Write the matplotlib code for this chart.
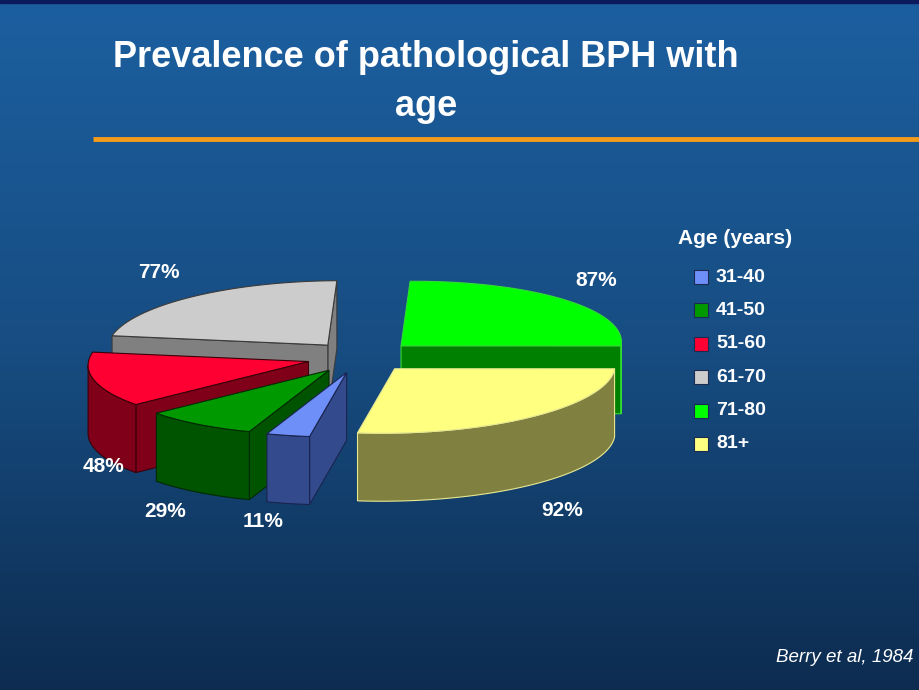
import numpy as np
import matplotlib
matplotlib.use("Agg")
import matplotlib.pyplot as plt
from matplotlib.patches import Polygon, Rectangle
from matplotlib.colors import LinearSegmentedColormap

# ---------------- data ----------------
age_groups = ["31-40", "41-50", "51-60", "61-70", "71-80", "81+"]
prevalence = [11, 29, 48, 77, 87, 92]          # % with pathological BPH
value_labels = [f"{v}%" for v in prevalence]

top_colors = ["#6f8ff8", "#009a00", "#ff0033", "#cccccc", "#00ff00", "#ffff80"]
side_colors = ["#334a8c", "#005400", "#80001a", "#808080", "#008000", "#808040"]
edge_colors = ["#1a2450", "#002a00", "#3a0008", "#3a3a3a", "#33dd33", "#e8e890"]

title_lines = ["Prevalence of pathological BPH with", "age"]
legend_title = "Age (years)"
source = "Berry et al, 1984"

# ---------------- layout / style ----------------
W, H_PX = 920, 690
CX, CY = 361, 357          # pie centre (top plane), pixels
R = 220                     # radius (pixels)
Q = 0.293                   # vertical squash of the tilted disc
THICK = 68                  # slice thickness (pixels)
SHEAR = 13                  # oblique shift of the far side (pixels per radius)
EXPLODE = 0.245             # radial explosion (fraction of radius)
START = 263.7               # first slice angle, drawn clockwise
LABEL_OFFSETS = [(-25, 18), (-33, 19), (9, 18), (-33, -24), (32, -19), (30, 26)]

plt.rcParams["font.family"] = ["Liberation Sans", "DejaVu Sans"]

fig = plt.figure(figsize=(9.2, 6.9), dpi=100)
ax = fig.add_axes([0, 0, 1, 1])
ax.set_xlim(0, W)
ax.set_ylim(H_PX, 0)
ax.axis("off")

# background gradient
cmap = LinearSegmentedColormap.from_list(
    "bg", [(0, "#1c5fa0"), (0.5, "#174d82"), (1, "#0d2c50")])
grad = np.linspace(0, 1, 256).reshape(-1, 1)
ax.imshow(grad, extent=[0, W, H_PX, 0], cmap=cmap, aspect="auto", zorder=0)
ax.add_patch(Rectangle((0, 0), W, 3, color="#0b1a5c", zorder=1))

# title + rule
for k, line in enumerate(title_lines):
    ax.text(426, 67 + k * 49.5, line, ha="center", va="baseline", color="white",
            fontsize=26, fontweight="bold", zorder=5)
ax.plot([93, W], [139, 139], color="#f39c1a", lw=3.5, solid_capstyle="butt", zorder=5)


def proj(X, Y, Z):
    X = np.asarray(X, float)
    Y = np.asarray(Y, float)
    return CX + R * X + SHEAR * Y, CY - R * Q * Y + THICK * Z


def visible(normal_rad):
    return (-np.sin(normal_rad) + (SHEAR / R) * np.cos(normal_rad)) > 0


total = float(sum(prevalence))
bounds = START - np.concatenate([[0], np.cumsum(prevalence)]) * 360.0 / total

slices = []
for i in range(len(prevalence)):
    hi, lo = bounds[i], bounds[i + 1]
    mid = np.radians((lo + hi) / 2)
    ox, oy = EXPLODE * np.cos(mid), EXPLODE * np.sin(mid)
    slices.append((oy, i, lo, hi, mid, ox))

z = 10
for oy, i, lo, hi, mid, ox in sorted(slices, key=lambda s: -s[0]):
    phi = np.radians(np.linspace(lo, hi, 200))
    RX, RY = ox + np.cos(phi), oy + np.sin(phi)
    ec = edge_colors[i]
    # radial faces
    for ang, nrm in ((lo, lo - 90), (hi, hi + 90)):
        if visible(np.radians(nrm)):
            a = np.radians(ang)
            xs, ys = proj([ox, ox + np.cos(a), ox + np.cos(a), ox],
                          [oy, oy + np.sin(a), oy + np.sin(a), oy],
                          np.array([0, 0, 1, 1]))
            ax.add_patch(Polygon(np.column_stack([xs, ys]), closed=True,
                                 fc=side_colors[i], ec=ec, lw=0.8, zorder=z))
            z += 1
    # outer curved wall (front-facing part)
    vis = visible(phi)
    if vis.any():
        tx, ty = proj(RX[vis], RY[vis], 0)
        bx, by = proj(RX[vis], RY[vis], 1)
        pts = np.column_stack([np.concatenate([tx, bx[::-1]]),
                               np.concatenate([ty, by[::-1]])])
        ax.add_patch(Polygon(pts, closed=True, fc=side_colors[i], ec=ec,
                             lw=0.8, zorder=z))
        z += 1
    # top face
    xs, ys = proj(np.concatenate([[ox], RX]), np.concatenate([[oy], RY]), 0)
    ax.add_patch(Polygon(np.column_stack([xs, ys]), closed=True,
                         fc=top_colors[i], ec=ec, lw=0.8, zorder=z))
    z += 1

# value labels
for oy, i, lo, hi, mid, ox in slices:
    front = np.sin(mid) < 0
    lx, ly = proj(ox + np.cos(mid), oy + np.sin(mid), 1 if front else 0)
    dx, dy = LABEL_OFFSETS[i]
    ax.text(lx + dx, ly + dy, value_labels[i], ha="center", va="center",
            color="white", fontsize=15, fontweight="bold", zorder=50)

# legend
ax.text(678, 238, legend_title, ha="left", va="center", color="white",
        fontsize=15, fontweight="bold", zorder=50)
for i, lab in enumerate(age_groups):
    y = 277 + i * 33.4
    ax.add_patch(Rectangle((694, y - 7), 14, 14, fc=top_colors[i],
                           ec="#1a2a50", lw=0.8, zorder=50))
    ax.text(716, y, lab, ha="left", va="center", color="white",
            fontsize=14, fontweight="bold", zorder=50)

ax.text(913, 657, source, ha="right", va="center", color="white",
        fontsize=13.5, style="italic", zorder=50)

fig.savefig("out.png", dpi=100)
